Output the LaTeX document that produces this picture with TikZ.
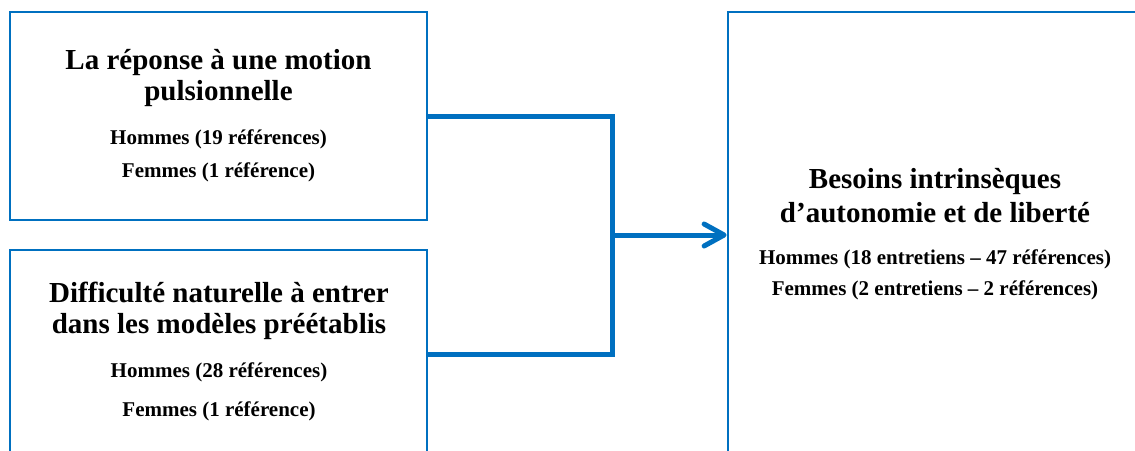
\documentclass[tikz,border=0pt]{standalone}
\usepackage{fontspec}
\setmainfont{Liberation Serif}
\usetikzlibrary{arrows.meta}
\definecolor{boxblue}{HTML}{0070C0}
\begin{document}
\begin{tikzpicture}[x=1pt,y=-1pt,
  boxnode/.style={draw=boxblue,line width=1.8pt,rectangle,inner sep=0pt},
  titletext/.style={anchor=base,inner sep=0pt,font=\fontsize{29}{33}\selectfont\bfseries},
  counttext/.style={anchor=base,inner sep=0pt,font=\fontsize{21}{25}\selectfont\bfseries},
  conn/.style={draw=boxblue,line width=5pt,line join=miter},
  chevron/.style={draw=boxblue,line width=5pt,line cap=round,line join=round}]
\useasboundingbox (0,0) rectangle (1135,450);
\clip (0,0) rectangle (1135,450);
% boxes
\node[boxnode,minimum width=417pt,minimum height=208pt] (A) at (218.5,116) {};
\node[boxnode,minimum width=417pt,minimum height=208pt] (B) at (218.5,354) {};
\node[boxnode,minimum width=414pt,minimum height=446pt] (C) at (935,235) {};
% texts box A
\node[titletext] (A1) at (218.5,69) {La réponse à une motion};
\node[titletext] (A2) at (218.5,100) {pulsionnelle};
\node[counttext] (A3) at (218.5,144) {Hommes (19 références)};
\node[counttext] (A4) at (218.5,177) {Femmes (1 référence)};
% texts box B
\node[titletext] (B1) at (219,302) {Difficulté naturelle à entrer};
\node[titletext] (B2) at (219,333) {dans les modèles préétablis};
\node[counttext] (B3) at (219,377) {Hommes (28 références)};
\node[counttext] (B4) at (219,416) {Femmes (1 référence)};
% texts box C
\node[titletext] (C1) at (935,188) {Besoins intrinsèques};
\node[titletext] (C2) at (935,222) {d’autonomie et de liberté};
\node[counttext] (C3) at (935,264) {Hommes (18 entretiens – 47 références)};
\node[counttext] (C4) at (935,295) {Femmes (2 entretiens – 2 références)};
% connectors
\coordinate (J) at (612,235);
\draw[conn] (A.east) -| (J) |- (B.east);
\coordinate (T) at ([xshift=-3pt]C.west);
\draw[conn] (J) -- (T);
\draw[chevron] (T) ++(-20,-11) -- (T) -- ++(-20,11);
\end{tikzpicture}
\end{document}
